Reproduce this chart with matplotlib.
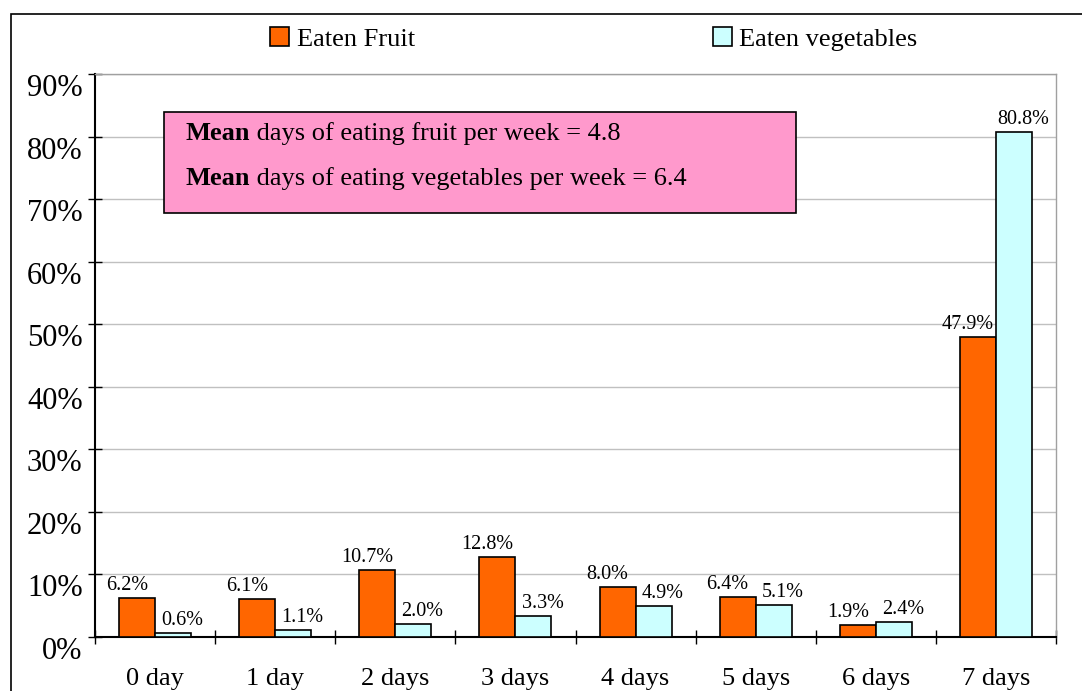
import numpy as np
import matplotlib
matplotlib.use('Agg')
import matplotlib.pyplot as plt
from matplotlib.patches import Rectangle
from matplotlib.transforms import ScaledTranslation

plt.rcParams['font.family'] = ['Liberation Serif', 'DejaVu Serif']

categories = ['0 day', '1 day', '2 days', '3 days', '4 days', '5 days', '6 days', '7 days']
fruit = [6.2, 6.1, 10.7, 12.8, 8.0, 6.4, 1.9, 47.9]
vegetables = [0.6, 1.1, 2.0, 3.3, 4.9, 5.1, 2.4, 80.8]
mean_fruit = 4.8
mean_veg = 6.4

fruit_color = '#FF6600'
veg_color = '#CCFFFF'

fig = plt.figure(figsize=(10.82, 6.91), dpi=100)
ax = fig.add_axes([95/1082, 1 - 637/691, 961/1082, 563/691])

x = np.arange(len(categories))
w = 0.3
b1 = ax.bar(x - w/2, fruit, w, color=fruit_color, edgecolor='black', linewidth=1.2,
            label='Eaten Fruit', zorder=3)
b2 = ax.bar(x + w/2, vegetables, w, color=veg_color, edgecolor='black', linewidth=1.2,
            label='Eaten vegetables', zorder=3)

# labels pushed apart sideways, like the original chart does
for bars, vals, dx in [(b1, fruit, -10), (b2, vegetables, 9)]:
    for r, v in zip(bars, vals):
        ax.annotate('{0:.1f}%'.format(v), (r.get_x() + r.get_width()/2, v),
                    xytext=(dx, 3), textcoords='offset pixels',
                    ha='center', va='bottom', fontsize=14.5, zorder=4)

ax.set_xlim(-0.5, 7.5)
ax.set_ylim(0, 90)
ax.set_yticks(np.arange(0, 91, 10))
ax.set_yticklabels(['{0}%'.format(v) for v in range(0, 91, 10)], fontsize=22)
ax.yaxis.grid(True, color='#c0c0c0', linewidth=1, zorder=0)

ax.set_xticks(np.arange(-0.5, 8, 1))
ax.set_xticklabels([])
ax.set_xticks(x, minor=True)
ax.set_xticklabels(categories, minor=True, fontsize=19)
ax.tick_params(axis='x', which='minor', length=0, pad=22)
ax.tick_params(axis='x', which='major', direction='inout', length=10, width=1)
ax.tick_params(axis='y', direction='inout', length=10, width=1, pad=4)

for lab in ax.get_yticklabels():
    lab.set_transform(lab.get_transform() + ScaledTranslation(0, -11/100, fig.dpi_scale_trans))

ax.spines['left'].set_linewidth(1.5)
ax.spines['bottom'].set_linewidth(1.5)
ax.spines['top'].set_color('#a0a0a0')
ax.spines['right'].set_color('#a0a0a0')
ax.spines['top'].set_linewidth(1)
ax.spines['right'].set_linewidth(1)

# mean box
box = Rectangle((69/961, (637-213)/563), 632/961, 101/563, transform=ax.transAxes,
                facecolor='#FF99CC', edgecolor='black', linewidth=1.2, zorder=5)
ax.add_patch(box)
t1 = ax.text(90/961, (637-131)/563, 'Mean', transform=ax.transAxes, fontsize=19,
             fontweight='bold', va='center_baseline', zorder=6)
ax.annotate(' days of eating fruit per week = {0}'.format(mean_fruit), xy=(1, 0),
            xycoords=t1, va='bottom', ha='left', fontsize=19, zorder=6)
t2 = ax.text(90/961, (637-176)/563, 'Mean', transform=ax.transAxes, fontsize=19,
             fontweight='bold', va='center_baseline', zorder=6)
ax.annotate(' days of eating vegetables per week = {0}'.format(mean_veg), xy=(1, 0),
            xycoords=t2, va='bottom', ha='left', fontsize=19, zorder=6)

fig.legend(handles=[b1, b2], loc='center', bbox_to_anchor=(0.549, 1 - 39/691), ncol=2,
           frameon=False, fontsize=19, handlelength=0.7, handleheight=0.7,
           handletextpad=0.3, columnspacing=11.3)

fig.patches.append(Rectangle((11/1082, -0.1), 1.0, 1.1 - 14/691, transform=fig.transFigure,
                             fill=False, edgecolor='black', linewidth=1.2, zorder=0))

fig.savefig('out.png', dpi=100)
